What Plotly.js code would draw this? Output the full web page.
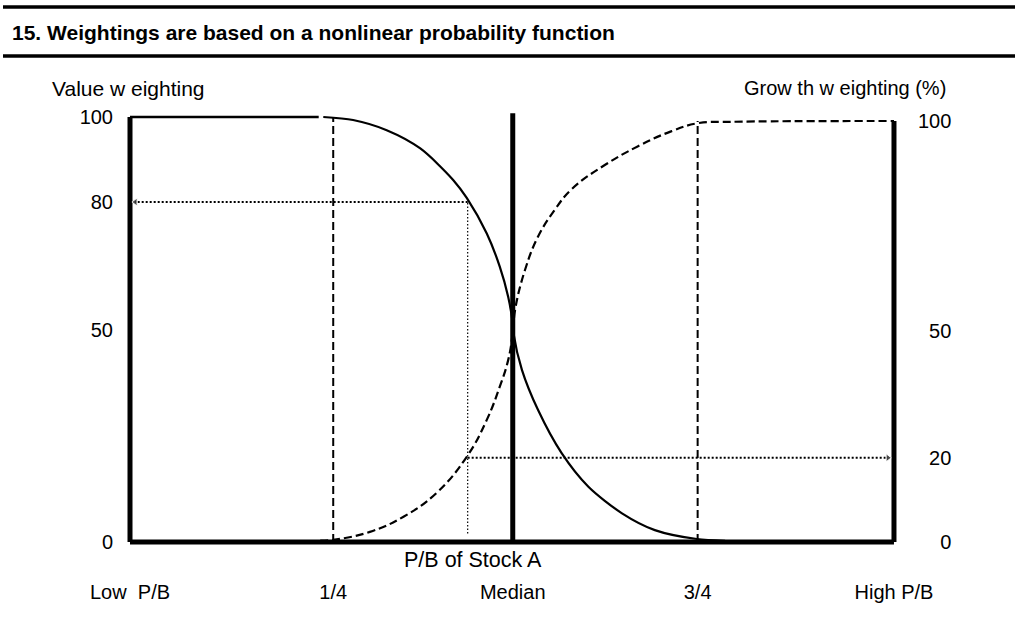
<!DOCTYPE html>
<html><head><meta charset="utf-8">
<script src="https://cdn.plot.ly/plotly-3.0.1.min.js"></script>
<style>html,body{margin:0;padding:0;background:#fff}#chart{width:1015px;height:621px}</style>
</head><body><div id="chart"></div>
<script>
// P/B position on a 0..100 scale (0 = Low P/B, 100 = High P/B)
const tickPos = [0, 26.6, 50.1, 74.3, 100];
const tickLabels = ['Low  P/B', '1/4', 'Median', '3/4', 'High P/B'];
const quartileLow = 26.6, median = 50.1, quartileHigh = 74.3;
const stockA = 44.2;
const valueAtA = 80;
const growthAtA = 20;

// Value weighting (solid curve)
const valueFlatX = [0, 24.7];
const valueFlatY = [100, 100];
const valueCurveX = [25.3, 29.2, 33.6, 38.0, 42.3, 44.1, 46.7, 48.4, 49.5, 50.1, 50.2, 51.3, 53.4, 56.5, 60.0, 64.4, 68.7, 74.2, 77.9];
const valueCurveY = [100, 99.3, 96.9, 92.6, 85.2, 80.9, 72.6, 64.8, 57.7, 51.5, 49.1, 40.5, 31.1, 20.9, 13.0, 6.75, 2.8, 0.7, 0.3];

// Growth weighting (dashed curve)
const growthX = [24.9, 26.6, 31.4, 35.8, 40.1, 44.1, 46.7, 48.4, 49.5, 50.1, 50.4, 51.7, 53.4, 55.6, 57.8, 62.2, 66.5, 70.9, 74.4, 78.5, 100];
const growthY = [0.3, 0.5, 2.4, 6.0, 11.6, 20.3, 29.0, 36.9, 43.2, 49.6, 55.1, 64.6, 72.5, 78.9, 83.8, 89.6, 94.0, 97.6, 99.5, 99.8, 100];

const leftTicks = [0, 50, 80, 100];
const rightTicks = [0, 20, 50, 100];
const rightTickText = ['\u2007\u20070', '\u200720', '\u200750', '100'];

const FONT = 'Arial, "Liberation Sans", sans-serif';
const M = {l: 122, r: 113, t: 108, b: 73};
const W = 1015 - M.l - M.r, H = 621 - M.t - M.b;
const px2x = p => (p - M.l) / W;
const py2y = p => (M.t + H - p) / H;

const blk = '#000';
const traces = [
  // frame
  {x: [0, 0], y: [0, 100], yaxis: 'y', mode: 'lines', line: {color: blk, width: 5}},
  {x: [100, 100], y: [0, 100], yaxis: 'y2', mode: 'lines', line: {color: blk, width: 5}},
  {x: [0, 100], y: [0, 0], yaxis: 'y', mode: 'lines', line: {color: blk, width: 5}},
  // quartile dashed verticals
  {x: [quartileLow, quartileLow], y: [0, 100], yaxis: 'y', mode: 'lines', line: {color: blk, width: 2, dash: '8px,4px'}},
  {x: [quartileHigh, quartileHigh], y: [0, 100], yaxis: 'y2', mode: 'lines', line: {color: blk, width: 2, dash: '8px,4px'}},
  // median
  {x: [median, median], y: [0, 100.9], yaxis: 'y', mode: 'lines', line: {color: blk, width: 5}},
  // stock A dotted guides
  {x: [stockA, stockA], y: [2, valueAtA], yaxis: 'y', mode: 'lines', line: {color: blk, width: 1.2, dash: '1.5px,2px'}},
  {x: [stockA, 0.7], y: [valueAtA, valueAtA], yaxis: 'y', mode: 'lines+markers',
   line: {color: blk, width: 2, dash: '2px,2px'},
   marker: {symbol: ['circle', 'triangle-left'], size: [0, 7], color: blk}},
  {x: [stockA, 99.2], y: [growthAtA, growthAtA], yaxis: 'y2', mode: 'lines+markers',
   line: {color: blk, width: 2, dash: '2px,2px'},
   marker: {symbol: ['circle', 'triangle-right'], size: [0, 7], color: blk}},
  // value weighting
  {x: valueFlatX, y: valueFlatY, yaxis: 'y', mode: 'lines', line: {color: blk, width: 2.5}},
  {x: valueCurveX, y: valueCurveY, yaxis: 'y', mode: 'lines', line: {color: blk, width: 2.2, shape: 'spline', smoothing: 0.8}},
  // growth weighting
  {x: growthX, y: growthY, yaxis: 'y2', mode: 'lines', line: {color: blk, width: 2.2, dash: '8px,4px', shape: 'spline', smoothing: 1.2}}
];

const layout = {
  width: 1015, height: 621,
  margin: M,
  paper_bgcolor: '#fff', plot_bgcolor: 'rgba(0,0,0,0)',
  showlegend: false,
  font: {family: FONT, color: blk, size: 20},
  title: {text: '<b>15. Weightings are based on a nonlinear probability function</b>',
    font: {family: FONT, size: 21, color: blk},
    xref: 'container', yref: 'container', x: 12 / 1015, xanchor: 'left', y: 1 - 33 / 621, yanchor: 'middle'},
  xaxis: {range: [-1.047, 101.05], showgrid: false, zeroline: false, showline: false,
    tickmode: 'array', tickvals: tickPos, ticktext: tickLabels, ticks: '',
    ticklabelstandoff: 30, tickfont: {size: 20, family: FONT}, automargin: false, fixedrange: true},
  yaxis: {range: [-1.41, 102.12], showgrid: false, zeroline: false, showline: false,
    tickmode: 'array', tickvals: leftTicks, ticks: '', ticklabelstandoff: 8,
    tickfont: {size: 20, family: FONT}, automargin: false, fixedrange: true},
  yaxis2: {range: [-1.43, 103.09], overlaying: 'y', side: 'right', showgrid: false, zeroline: false, showline: false,
    tickmode: 'array', tickvals: rightTicks, ticktext: rightTickText, ticks: '', ticklabelstandoff: 15,
    tickfont: {size: 20, family: FONT}, automargin: false, fixedrange: true},
  annotations: [
    {text: 'Value w eighting', xref: 'paper', yref: 'paper', x: px2x(50), y: py2y(88),
     xanchor: 'left', yanchor: 'middle', showarrow: false, font: {size: 21, family: FONT}},
    {text: 'Grow th w eighting (%)', xref: 'paper', yref: 'paper', x: px2x(948), y: py2y(88),
     xanchor: 'right', yanchor: 'middle', showarrow: false, font: {size: 20, family: FONT}},
    {text: 'P/B of Stock A', xref: 'x', yref: 'y', x: 44.9, y: 0, yshift: -18,
     xanchor: 'center', yanchor: 'middle', showarrow: false, font: {size: 21.5, family: FONT}}
  ],
  shapes: [
    {type: 'line', xref: 'paper', yref: 'paper', x0: px2x(3), x1: px2x(1015), y0: py2y(7), y1: py2y(7), line: {color: blk, width: 3.5}},
    {type: 'line', xref: 'paper', yref: 'paper', x0: px2x(3), x1: px2x(1015), y0: py2y(56), y1: py2y(56), line: {color: blk, width: 3.5}}
  ]
};

Plotly.newPlot('chart', traces, layout, {displayModeBar: false, staticPlot: true});
</script>
</body></html>
